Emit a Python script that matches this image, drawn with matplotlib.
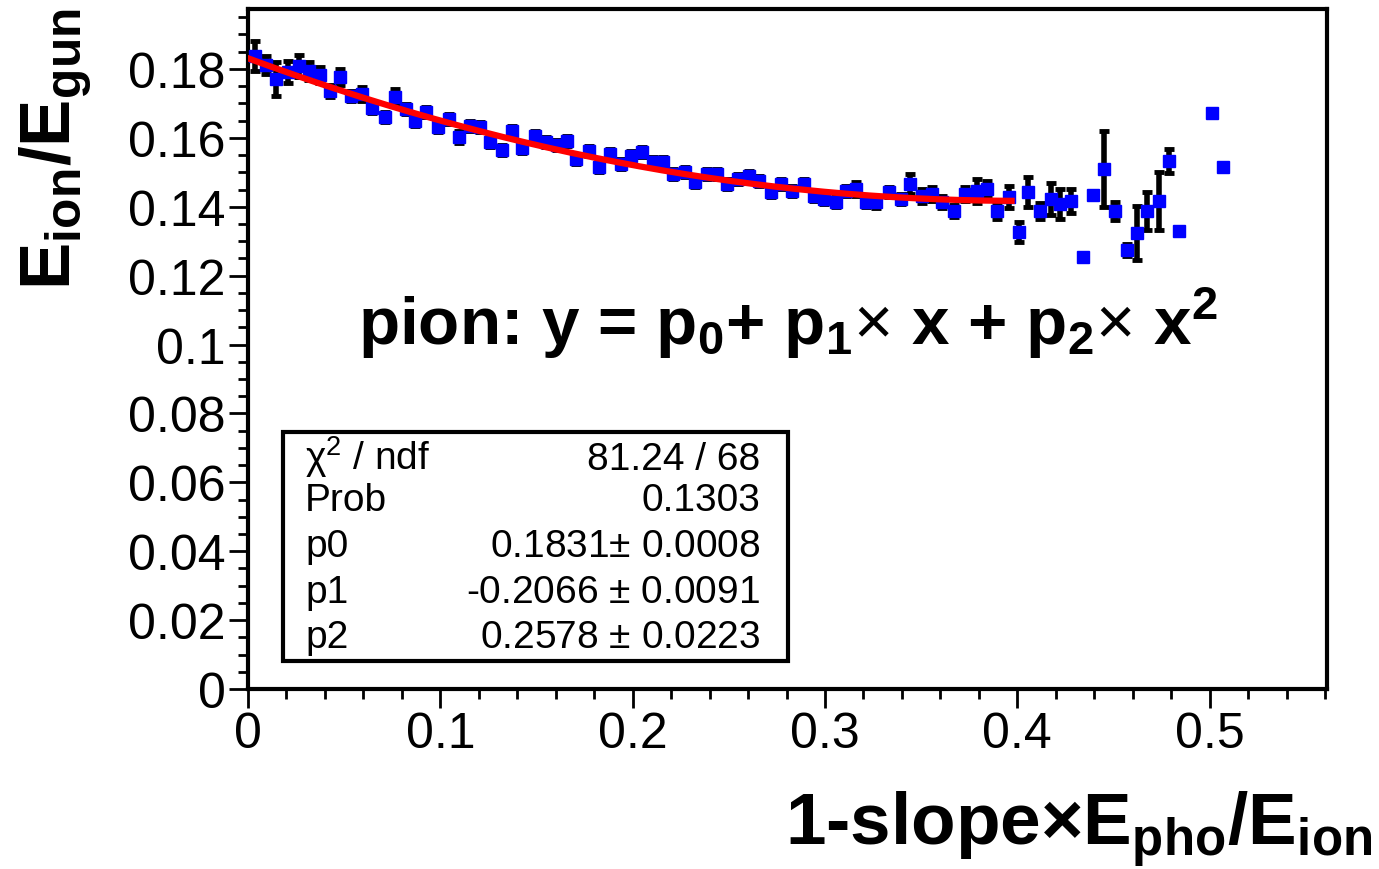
import numpy as np
import matplotlib
matplotlib.use("Agg")
import matplotlib.pyplot as plt
from matplotlib.ticker import MultipleLocator, FuncFormatter
from matplotlib.patches import Rectangle

plt.rcParams['font.family'] = ['Liberation Sans', 'DejaVu Sans']
plt.rcParams['mathtext.fontset'] = 'custom'
plt.rcParams['mathtext.rm'] = 'Liberation Sans'
plt.rcParams['mathtext.it'] = 'Liberation Sans:italic'
plt.rcParams['mathtext.bf'] = 'Liberation Sans:bold'

# data points
x = [0.0036, 0.0094, 0.0146, 0.0208, 0.0266, 0.0318, 0.0375, 0.0427, 0.0479, 0.0536,
     0.0594, 0.0646, 0.0714, 0.0766, 0.0823, 0.0870, 0.0927, 0.0990, 0.1047, 0.1099,
     0.1156, 0.1208, 0.1260, 0.1323, 0.1375, 0.1427, 0.1490, 0.1547, 0.1604, 0.1656,
     0.1703, 0.1771, 0.1823, 0.1880, 0.1938, 0.1990, 0.2047, 0.2104, 0.2156, 0.2208,
     0.2271, 0.2323, 0.2385, 0.2438, 0.2490, 0.2547, 0.2604, 0.2656, 0.2719, 0.2771,
     0.2828, 0.2891, 0.2943, 0.2995, 0.3057, 0.3109, 0.3161, 0.3214, 0.3266, 0.3333,
     0.3396, 0.3443, 0.3505, 0.3557, 0.3609, 0.3672, 0.3729, 0.3792, 0.3844, 0.3896,
     0.3958, 0.4010, 0.4057, 0.4120, 0.4177, 0.4224, 0.4281, 0.4339, 0.4391, 0.4453,
     0.4510, 0.4568, 0.4620, 0.4672, 0.4734, 0.4786, 0.4839, 0.5010, 0.5068]
y = [0.1838, 0.1812, 0.1771, 0.1792, 0.1809, 0.1794, 0.1783, 0.1736, 0.1777, 0.1722,
     0.1728, 0.1687, 0.1661, 0.1719, 0.1684, 0.1649, 0.1675, 0.1632, 0.1655, 0.1603,
     0.1635, 0.1632, 0.1588, 0.1565, 0.1620, 0.1571, 0.1606, 0.1588, 0.1580, 0.1591,
     0.1539, 0.1562, 0.1516, 0.1553, 0.1524, 0.1548, 0.1559, 0.1530, 0.1530, 0.1495,
     0.1501, 0.1472, 0.1495, 0.1495, 0.1466, 0.1481, 0.1490, 0.1475, 0.1443, 0.1466,
     0.1446, 0.1466, 0.1431, 0.1423, 0.1414, 0.1446, 0.1452, 0.1414, 0.1414, 0.1443,
     0.1423, 0.1466, 0.1431, 0.1437, 0.1414, 0.1388, 0.1437, 0.1446, 0.1452, 0.1388,
     0.1429, 0.1327, 0.1443, 0.1388, 0.1423, 0.1408, 0.1417, 0.1254, 0.1434, 0.1510,
     0.1388, 0.1275, 0.1324, 0.1388, 0.1417, 0.1533, 0.1330, 0.1672, 0.1516]
yerr = [0.0044, 0.0026, 0.0049, 0.0032, 0.0032, 0.0026, 0.0023, 0.0017, 0.0023, 0.0015,
        0.0020, 0.0015, 0.0015, 0.0023, 0.0015, 0.0015, 0.0015, 0.0015, 0.0015, 0.0017,
        0.0015, 0.0015, 0.0015, 0.0015, 0.0015, 0.0015, 0.0015, 0.0015, 0.0015, 0.0015,
        0.0015, 0.0015, 0.0015, 0.0015, 0.0015, 0.0015, 0.0015, 0.0015, 0.0015, 0.0015,
        0.0015, 0.0015, 0.0015, 0.0015, 0.0015, 0.0015, 0.0015, 0.0015, 0.0015, 0.0015,
        0.0015, 0.0015, 0.0015, 0.0015, 0.0015, 0.0015, 0.0020, 0.0015, 0.0017, 0.0015,
        0.0015, 0.0029, 0.0020, 0.0020, 0.0017, 0.0017, 0.0020, 0.0035, 0.0023, 0.0023,
        0.0032, 0.0029, 0.0044, 0.0023, 0.0046, 0.0044, 0.0035, 0.0, 0.0012, 0.0110,
        0.0026, 0.0017, 0.0078, 0.0055, 0.0084, 0.0035, 0.0, 0.0, 0.0]

# fit result from the stats box
fit_params = [0.1831, -0.2066, 0.2578]
fit_range = (0.0, 0.397)
stat_labels = [r'$\mathrm{\chi}^2$ / ndf', 'Prob', 'p0', 'p1', 'p2']
stat_values = ['81.24 / 68', '0.1303', '0.1831$\\pm$ 0.0008',
               '-0.2066 $\\pm$ 0.0091', '0.2578 $\\pm$ 0.0223']

W, H = 1379, 870
fig = plt.figure(figsize=(W / 100, H / 100), dpi=100)
ax = fig.add_axes([248 / W, 1 - 690 / H, (1327 - 248) / W, 680 / H])

ax.errorbar(x, y, yerr=yerr, fmt='s', color='blue', ms=8.5, mec='blue',
            ecolor='black', elinewidth=4, capsize=3.5, capthick=3.5, zorder=3)

xf = np.linspace(fit_range[0], fit_range[1], 200)
yf = fit_params[0] + fit_params[1] * xf + fit_params[2] * xf ** 2
ax.plot(xf, yf, color='red', lw=4.5, zorder=4)

ax.set_xlim(0, 0.561)
ax.set_ylim(0, 0.1974)
ax.xaxis.set_major_locator(MultipleLocator(0.1))
ax.xaxis.set_minor_locator(MultipleLocator(0.02))
ax.yaxis.set_major_locator(MultipleLocator(0.02))
ax.yaxis.set_minor_locator(MultipleLocator(0.005))
fmt = FuncFormatter(lambda v, p: '%g' % round(v, 4))
ax.xaxis.set_major_formatter(fmt)
ax.yaxis.set_major_formatter(fmt)
ax.tick_params(which='major', direction='out', length=14, width=2,
               labelsize=36, pad=2)
ax.tick_params(which='minor', direction='out', length=7, width=2)
for s in ax.spines.values():
    s.set_linewidth(3)

# stats box
box = Rectangle((283 / W, 1 - 662 / H), (788 - 283) / W, (662 - 433) / H,
                transform=fig.transFigure, facecolor='white', edgecolor='black',
                lw=3, zorder=5)
fig.add_artist(box)
rows = [470, 511, 557, 603, 648]
for lab, val, r in zip(stat_labels, stat_values, rows):
    fig.text(305 / W, 1 - r / H, lab, fontsize=28, va='baseline', ha='left', zorder=6)
    fig.text(760 / W, 1 - r / H, val, fontsize=28, va='baseline', ha='right', zorder=6)

fig.text(358 / W, 1 - 345 / H,
         r'pion: y = p$_\mathbf{0}$+ p$_\mathbf{1}$$\times$ x + p$_\mathbf{2}$$\times$ x$^\mathbf{2}$',
         fontsize=48.5, fontweight='bold', va='baseline', ha='left')

fig.text(55 / W, 1 - 8 / H, r'E$_\mathbf{ion}$/E$_\mathbf{gun}$', fontsize=51,
         fontweight='bold', rotation=90, ha='center', va='top')
fig.text(1372 / W, 1 - 845 / H, r'1-slope×E$_\mathbf{pho}$/E$_\mathbf{ion}$',
         fontsize=52.5, fontweight='bold', ha='right', va='baseline')

fig.savefig('out.png', dpi=100)
